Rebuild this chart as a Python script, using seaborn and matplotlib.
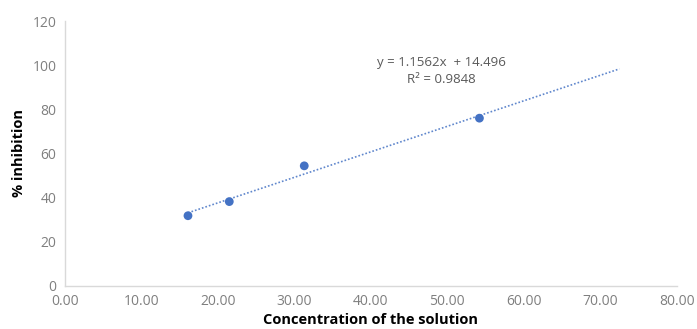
import numpy as np
import pandas as pd
import matplotlib
matplotlib.use("Agg")
import matplotlib.pyplot as plt
import seaborn as sns

# datos
conc = [16.1, 21.5, 31.3, 54.2]
inhib = [31.8, 38.2, 54.4, 76.0]
slope = 1.1562
intercept = 14.496
r2 = 0.9848
trend_x = [16.1, 72.5]
x_ticks = [0, 10, 20, 30, 40, 50, 60, 70, 80]
y_ticks = [0, 20, 40, 60, 80, 100, 120]

sns.set_theme(style="white")
plt.rcParams['font.family'] = ['Open Sans', 'DejaVu Sans']

azul = "#4472C4"
gris = "#D9D9D9"

df = pd.DataFrame({"conc": conc, "inhib": inhib})
df_tend = pd.DataFrame({"x": trend_x, "y": [slope * v + intercept for v in trend_x]})

fig = plt.figure(figsize=(6.97, 3.29), dpi=100)
ax = fig.add_axes([0.093, 0.131, 0.878, 0.805])

sns.lineplot(data=df_tend, x="x", y="y", ax=ax, color=azul, linestyle=(0, (1, 1.2)),
             linewidth=1.2, alpha=0.85)
sns.scatterplot(data=df, x="conc", y="inhib", ax=ax, color=azul, s=40, edgecolor="none", zorder=3)

ax.text(49.2, 101, "y = 1.1562x  + 14.496", ha="center", va="center", fontsize=9.5, color="#595959")
ax.text(49.2, 93.6, f"R² = {r2}", ha="center", va="center", fontsize=9.5, color="#595959")

ax.set_xlim(0, 80)
ax.set_ylim(0, 120)
ax.set_xticks(x_ticks)
ax.set_xticklabels([f"{v:.2f}" for v in x_ticks])
ax.set_yticks(y_ticks)
ax.tick_params(axis="both", length=0, labelsize=10, labelcolor="#7F7F7F", pad=6)

for s in ["top", "right"]:
    ax.spines[s].set_visible(False)
for s in ["left", "bottom"]:
    ax.spines[s].set_color(gris)
    ax.spines[s].set_linewidth(1.0)

ax.set_xlabel("Concentration of the solution", fontsize=10.5, fontweight="bold", color="black", labelpad=3)
ax.set_ylabel("% inhibition", fontsize=10.5, fontweight="bold", color="black", labelpad=5)

fig.savefig("out.png", dpi=100)
